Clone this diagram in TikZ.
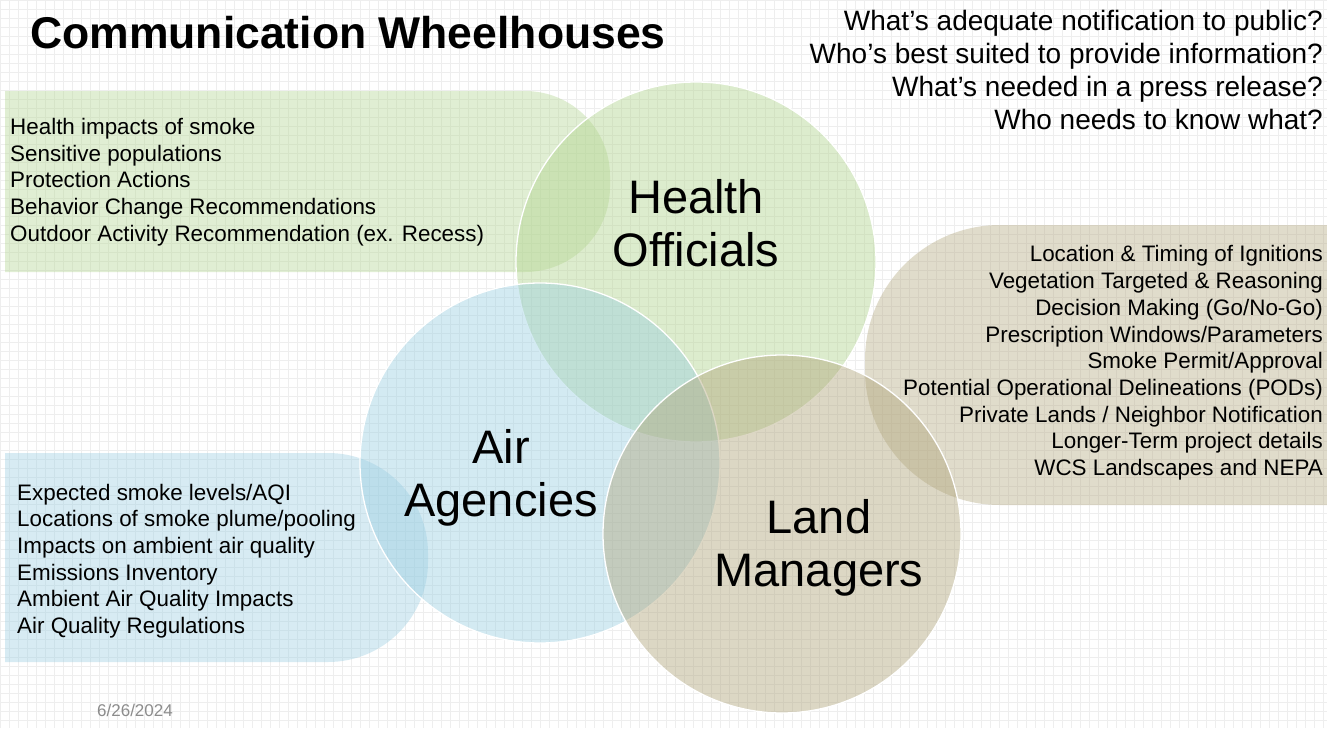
\documentclass[tikz,border=0pt]{standalone}
\usepackage{fontspec}
\setmainfont{Liberation Sans}
\usetikzlibrary{positioning}

\definecolor{healthgreen}{RGB}{176,212,140}
\definecolor{airblue}{RGB}{150,205,225}
\definecolor{landtan}{RGB}{175,163,120}
\definecolor{gridgray}{RGB}{238,238,238}
\definecolor{dategray}{RGB}{140,140,140}

\begin{document}
\begin{tikzpicture}[x=1pt,y=-1pt]
    % Styles for the panels, circles and texts
    \tikzset{
        grid lines/.style={draw=gridgray, line width=0.5pt},
        panel/.style={fill=#1, fill opacity=0.38},
        wheel/.style={fill=#1, fill opacity=0.43, draw=white, draw opacity=1, line width=1.3pt},
        wheel label/.style={inner sep=0pt, align=center,
            font=\fontsize{47}{53}\selectfont},
        list text/.style={inner sep=0pt,
            font=\fontsize{22.4}{26.7}\selectfont},
        question text/.style={inner sep=0pt, align=right,
            font=\fontsize{28}{33}\selectfont}
    }

    % Paper background with faint grid
    \fill[white] (0,0) rectangle (1327,728);
    \useasboundingbox (0,0) rectangle (1327,728);
    \draw[grid lines] (0,0) grid[step=9pt] (1327,728);

    % Text panels behind the circles
    \fill[panel=healthgreen] (5,272) -- (5,91) -- (525,91)
        arc[start angle=90, end angle=0, radius=85pt] -- (610,187)
        arc[start angle=0, end angle=-90, radius=85pt] -- cycle;
    \fill[panel=airblue] (5,662) -- (5,453) -- (328,453)
        arc[start angle=90, end angle=0, radius=100pt] -- (428,562)
        arc[start angle=0, end angle=-90, radius=100pt] -- cycle;
    \fill[panel=landtan] (1330,225) -- (1000,225)
        arc[start angle=90, end angle=180, radius=135pt] -- (865,370)
        arc[start angle=180, end angle=270, radius=135pt] -- (1330,505) -- cycle;

    % The three wheelhouses
    \draw[wheel=healthgreen] (696,262) circle[radius=180pt];
    \draw[wheel=airblue, fill opacity=0.41] (540,463) circle[radius=180pt];
    \draw[wheel=landtan] (782,534) circle[radius=179pt];

    % Title and questions
    \node[anchor=base west, inner sep=0pt, font=\fontsize{44.5}{50}\selectfont\bfseries]
        (title) at (30,48) {Communication Wheelhouses};
    \node[question text, anchor=east] (questions) at (1323,70)
        {What's adequate notification to public?\\
         Who's best suited to provide information?\\
         What's needed in a press release?\\
         Who needs to know what?};

    % Circle labels
    \node[wheel label] (health) at (696,223) {Health\\Officials};
    \node[wheel label] (air) at (501,478) {Air\\Agencies};
    \node[wheel label] (land) at (819,548) {Land\\Managers};

    % Lists in the panels
    \node[list text, align=left, anchor=west] (healthlist) at (10,182)
        {Health impacts of smoke\\
         Sensitive populations\\
         Protection Actions\\
         Behavior Change Recommendations\\
         Outdoor Activity Recommendation (ex. Recess)};
    \node[list text, align=left, anchor=west] (airlist) at (17,561)
        {Expected smoke levels/AQI\\
         Locations of smoke plume/pooling\\
         Impacts on ambient air quality\\
         Emissions Inventory\\
         Ambient Air Quality Impacts\\
         Air Quality Regulations};
    \node[list text, align=right, anchor=east] (landlist) at (1323,363)
        {Location \& Timing of Ignitions\\
         Vegetation Targeted \& Reasoning\\
         Decision Making (Go/No-Go)\\
         Prescription Windows/Parameters\\
         Smoke Permit/Approval\\
         Potential Operational Delineations (PODs)\\
         Private Lands / Neighbor Notification\\
         Longer-Term project details\\
         WCS Landscapes and NEPA};

    % Date in the corner
    \node[text=dategray, font=\fontsize{17}{20}\selectfont] (date) at (135,710) {6/26/2024};
\end{tikzpicture}
\end{document}
